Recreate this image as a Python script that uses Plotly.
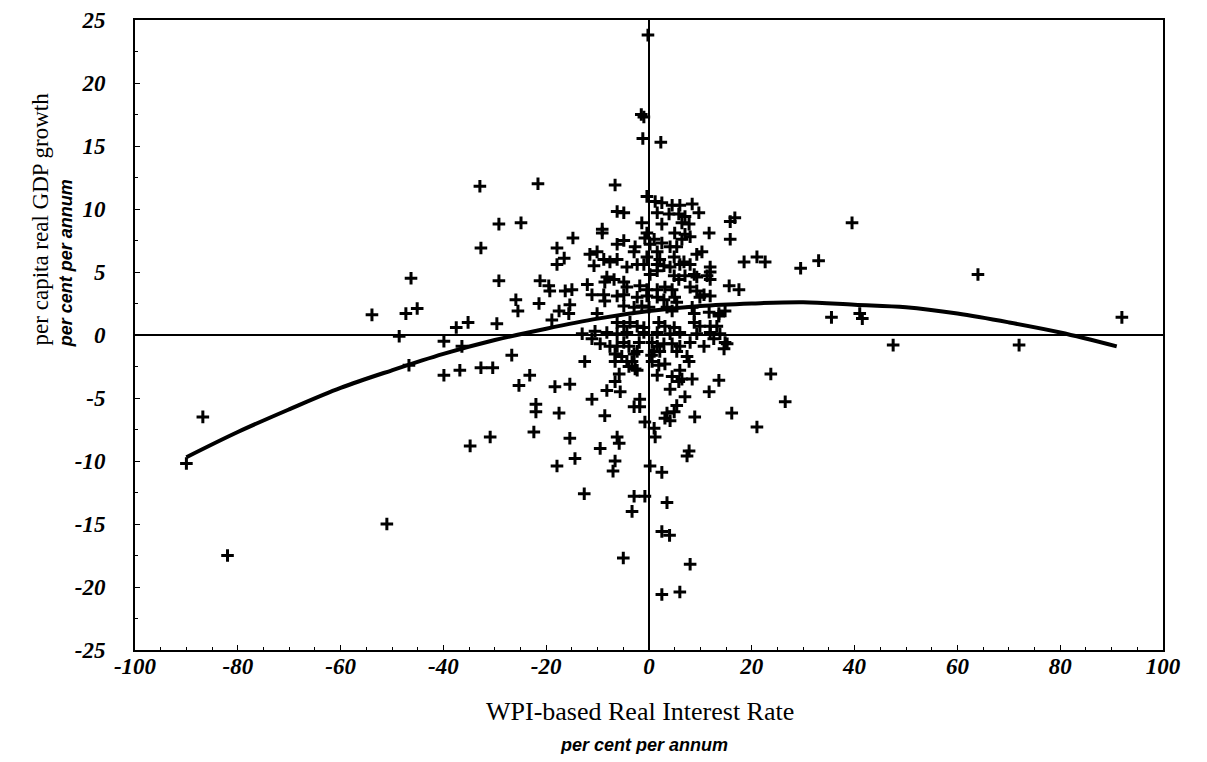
import plotly.graph_objects as go

# Scatter observations: WPI-based real interest rate (x) vs per capita real GDP growth (y)
rate = [
    -90, -86.8, -82, -53.9, -51, -48.6, -47.3, -46.3, -45.1, -46.7, -39.9, -39.9, -37.5, -36.8, -36.4,
    -35.2, -34.8, -32.9, -32.7, -32.7, -30.4, -30.9, -29.6, -29.2, -29.2, -24.9, -26.7, -25.9, -25.5,
    -25.3, -23.2, -22.4, -22, -22, -21.6, -21.2, -21.4, -19.5, -19.3, -18.9, -18.3, -17.9, -17.9,
    -16.5, -17.5, -17.5, -17.9, -16.3, -15.0, -15.4, -15.6, -15.4, -15.4, -14.4, -14.8,
    -13, -12.5, -12.6, -12, -11.5, -11.1, -11.1, -11.1, -10.7, -10.5, -10.1, -10.1, -9.5, -9.5,
    -9.1, -9.1, -8.8, -8.8, -8.6, -8.6, -8.6, -8.2, -8.2, -8.2, -7.6, -7.6, -7.0, -6.8, -6.6,
    -6.6, -6.6, -6.6, -6.6, -6.2, -6.2, -6.2, -6.2, -6.2, -6.2, -6.2, -6.2, -5.8, -5.8, -5.6,
    -5.3, -5, -4.9, -4.9, -4.9, -4.9, -4.9, -4.9, -4.9, -4.3, -4.3, -4.3, -4.3, -3.9, -3.9,
    -3.7, -3.3, -3.3, -2.9, -2.9, -2.9, -2.9, -2.9, -2.7, -2.7, -2.3, -2.3, -2.3, -2.3, -2.3,
    -1.9, -1.8, -1.8, -1.8, -1.5, -1.0, -1.2, -1.4, -1.4, -1.0, -1.0, -1.0, -0.8, -0.8, -0.8,
    -0.4, -0.4, -0.4, -0.4, -0.4, -0.2,
    0, 0.2, 0.2, 0.2, 0.5, 0.6, 0.6, 1, 1, 1, 1.2, 1.2, 1.6, 1.6, 1.6, 1.6, 1.6, 1.6, 1.6,
    1.6, 1.6, 1.9, 1.9, 2.1, 2.1, 2.3, 2.5, 2.5, 2.5, 2.5, 2.5, 2.5, 2.9, 2.9, 2.9, 3.1, 3.1,
    3.1, 3.1, 3.5, 3.5, 3.5, 3.9, 4.0, 4.1, 4.1, 4.1, 4.1, 4.1, 4.5, 4.5, 4.5, 4.5, 4.5, 4.9,
    4.9, 4.9, 4.9, 5, 5, 5.4, 5.4, 5.4, 5.4, 5.8, 5.8, 5.8, 6, 6, 6, 6, 6, 6, 6.4, 6.4, 6.4,
    6.8, 7, 7, 7, 7, 7.4, 7.4, 7.8, 7.8, 7.8, 8, 8, 8, 8, 8, 8.4, 8.4, 8.4, 8.8, 8.8, 8.8,
    8.9, 9.3, 9.3, 9.3, 9.3, 9.7, 9.9, 9.9, 10.3, 10.7, 10.7, 11.3, 11.7, 11.7, 11.7, 11.9,
    11.9, 11.9, 11.9, 11.9, 11.9, 12.6, 13.2, 13.6, 13.6, 13.6, 13.8, 14.6, 14.8, 14.8, 15.2,
    15.6, 15.8, 15.8, 16.1, 16.7, 17.5, 18.5, 21, 21, 22.6, 23.7, 26.5, 29.5, 33, 35.5, 39.5,
    41, 41.5, 47.5, 64, 72, 92,
]
growth = [
    -10.2, -6.5, -17.5, 1.6, -15, -0.1, 1.7, 4.5, 2.1, -2.4, -0.5, -3.2, 0.6, -2.8, -0.9,
    1.0, -8.8, 11.8, 6.9, -2.6, -2.6, -8.1, 0.9, 8.8, 4.3, 8.9, -1.6, 2.8, 1.9,
    -4.0, -3.2, -7.7, -5.5, -6.1, 12.0, 4.3, 2.5, 3.9, 3.5, 1.2, -4.1, 6.9, 5.6,
    6.1, 1.9, -6.2, -10.4, 3.5, 3.6, 2.4, 1.7, -3.9, -8.2, -9.8, 7.7,
    0.1, -2.1, -12.6, 4.0, 6.4, 3.2, -0.3, -5.1, 5.5, 0.3, 6.6, 1.7, -0.7, -9.0,
    8.4, 8.1, 6.0, 3.2, 4.2, 2.7, -6.4, 4.6, 0.2, -4.4, 5.8, -0.9, -10.8, 4.4, 11.9,
    -1.5, -2.1, -3.7, -10.0, 9.8, 7.2, 6.0, 3.1, 1.0, 0.1, -0.9, -8.1, -3.1, -8.6, -4.5,
    -1.7, -17.7, 9.7, 7.5, 4.2, 3.2, 2.3, 0.7, -0.6, 5.4, 3.8, 0.2, -2.1, -0.9, -2.5,
    1.0, -2.1, -14.0, 6.6, 2.2, -1.5, -5.7, -12.8, 7.0, -2.7, 5.6, 3.0, 0.7, -1.3, -2.8,
    -0.6, 3.9, -5.1, -5.7, 17.5, 17.3, 15.6, 8.9, 2.3, 5.6, 0.6, 0.2, 7.7, -6.9, -12.8,
    11.0, 8.1, 6.2, 3.6, 3.1, 23.8,
    2.2, 7.2, 4.8, -10.4, -1.6, -0.6, -2.1, 7.6, -1.3, -7.4, 10.6, -8.1, 9.7, 6.6, 5.1, 5.6, 3.6, 3.0, 0.2,
    -0.9, -3.2, 1.0, -2.4, 6.0, -1.3, 15.3, 10.5, 8.8, 7.3, -10.9, -15.6, -20.6, 5.5, 2.8, -0.7, 3.8, 0.7,
    -2.3, -6.6, 2.2, -6.2, -13.3, 9.6, -15.9, 7.0, 5.4, 0.1, -4.3, -6.8, 10.3, 3.6, 1.9, -0.7, -3.3, 6.2,
    4.7, 0.6, -6.1, 8.1, 3.0, 7.0, 2.6, -1.3, -5.6, 9.6, 4.4, -3.7, 10.3, 5.6, 0.2, -0.9, -2.8, -20.4, 8.9, 7.6, -3.5,
    5.8, 9.4, 8.0, 4.7, -4.9, -1.7, -9.6, 8.8, -2.1, -9.2, 7.8, 5.6, 3.8, -0.6, -18.2, 10.4, 2.2, -3.5, 4.8, 1.7, 1.0,
    -6.5, 6.4, 4.6, 3.5, 0.1, 9.7, 3.0, 0.7, 6.6, 3.2, -0.9, 4.7, 8.1, 1.8, -4.5, 5.4,
    5.0, 4.4, 3.1, 0.7, 0.2, -0.3, 0.7, 1.7, 1.5, -3.6, 0.1, -1.1, 1.9, -0.6, -0.7,
    3.9, 9.0, 7.6, -6.2, 9.3, 3.6, 5.8, 6.2, -7.3, 5.8, -3.1, -5.3, 5.3, 5.9, 1.4, 8.9,
    1.7, 1.3, -0.8, 4.8, -0.8, 1.4,
]

# Fitted curve, values
fit_x = [-90, -80, -70, -60, -50, -40, -30, -20, -10, 0, 10, 20, 30, 40, 50, 60, 70, 80, 91]
fit_y = [-9.7, -7.7, -5.9, -4.2, -2.8, -1.5, -0.4, 0.5, 1.3, 1.9, 2.3, 2.5, 2.6, 2.4, 2.2, 1.7, 1.0, 0.2, -0.9]

x_ticks = [-100, -80, -60, -40, -20, 0, 20, 40, 60, 80, 100]
y_ticks = [-25, -20, -15, -10, -5, 0, 5, 10, 15, 20, 25]

serif = "Liberation Serif, Times New Roman, serif"
sans = "Liberation Sans, Arial, sans-serif"

fig = go.Figure()
fig.add_trace(go.Scatter(
    x=rate, y=growth, mode="markers",
    marker=dict(symbol="cross-thin", size=9, color="black",
                line=dict(color="black", width=3)),
    hoverinfo="x+y", showlegend=False,
))
fig.add_trace(go.Scatter(
    x=fit_x, y=fit_y, mode="lines", line=dict(color="black", width=4, shape="spline"),
    hoverinfo="skip", showlegend=False,
))

axis_common = dict(
    showgrid=False, zeroline=True, zerolinecolor="black", zerolinewidth=1.6,
    showline=True, linecolor="black", linewidth=2, mirror=True,
    ticks="inside", ticklen=5, tickcolor="black", tickwidth=1,
    ticklabeloverflow="allow", automargin=False,
    tickfont=dict(family=serif, size=23, color="black", style="italic", weight="bold"),
)

fig.update_layout(
    width=1191, height=746,
    margin=dict(l=127, r=36, t=12, b=104),
    paper_bgcolor="white", plot_bgcolor="white",
    xaxis=dict(range=[-100, 100], tickvals=x_ticks,
               ticktext=[str(v) for v in x_ticks],
               ticklabelstandoff=-6,
               minor=dict(ticks="inside", ticklen=3, dtick=5, tickcolor="black"),
               **axis_common),
    yaxis=dict(range=[-25, 25], tickvals=y_ticks,
               ticktext=[str(v) for v in y_ticks],
               ticklabelstandoff=23,
               minor=dict(ticks="inside", ticklen=3, dtick=2.5, tickcolor="black"),
               **axis_common),
    annotations=[
        dict(text="WPI-based Real Interest Rate", xref="paper", yref="paper",
             x=0.491, y=-0.098, showarrow=False, xanchor="center", yanchor="middle",
             font=dict(family=serif, size=26, color="black")),
        dict(text="<b><i>per cent per annum</i></b>", xref="paper", yref="paper",
             x=0.495, y=-0.150, showarrow=False, xanchor="center", yanchor="middle",
             font=dict(family=sans, size=18, color="black")),
        dict(text="per capita real GDP growth", xref="paper", yref="paper",
             x=-0.0924, y=0.6835, showarrow=False, textangle=-90,
             xanchor="center", yanchor="middle",
             font=dict(family=serif, size=23, color="black")),
        dict(text="<b><i>per cent per annum</i></b>", xref="paper", yref="paper",
             x=-0.0671, y=0.614, showarrow=False, textangle=-90,
             xanchor="center", yanchor="middle",
             font=dict(family=sans, size=18, color="black")),
    ],
)

fig.write_html("out.html")
